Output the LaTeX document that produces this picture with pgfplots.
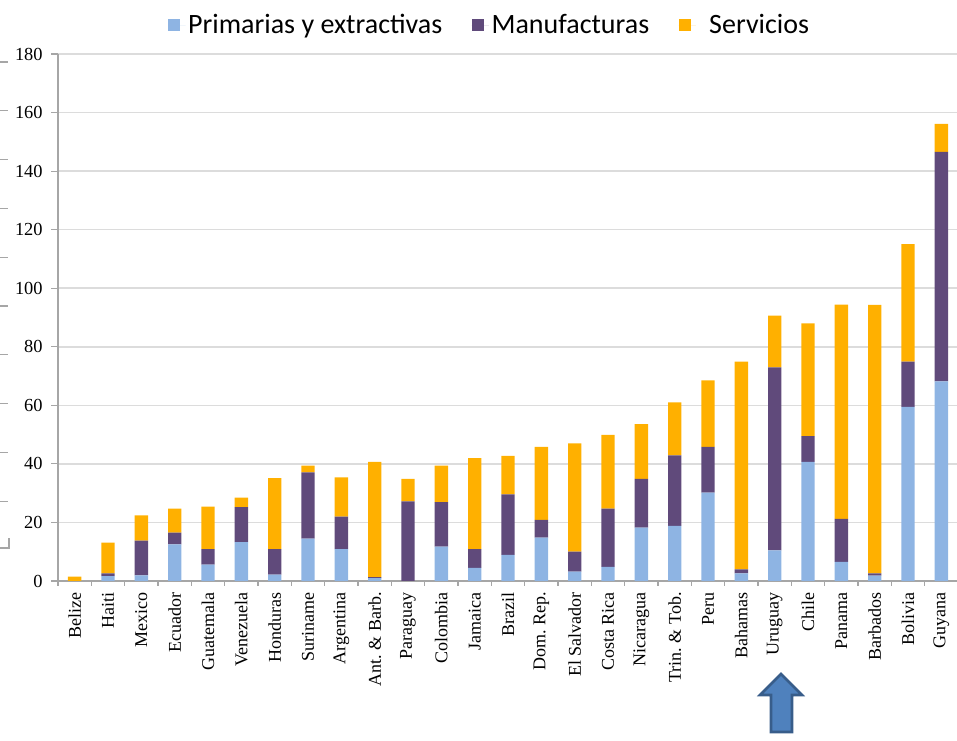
\documentclass[border=0pt]{standalone}
\usepackage{fontspec}
\setmainfont{Liberation Serif}
\newfontfamily\calibri{Carlito}
\usepackage{pgfplots}
\usepackage{pgfplotstable}
\pgfplotsset{compat=1.18}
\definecolor{cblue}{HTML}{8EB4E3}
\definecolor{cpurple}{HTML}{604A7B}
\definecolor{corange}{HTML}{FFB000}
\definecolor{axisgray}{HTML}{A6A6A6}
\definecolor{gridgray}{HTML}{DCDCDC}
\definecolor{arrowfill}{HTML}{4F81BD}
\definecolor{arrowdraw}{HTML}{385D8A}

\pgfplotstableread{
idx p m s
0 0 0 1.5
1 1.7 0.9 10.5
2 1.9 11.9 8.6
3 12.5 4.0 8.2
4 5.6 5.3 14.5
5 13.3 11.9 3.3
6 2.2 8.7 24.2
7 14.5 22.6 2.3
8 10.9 11.1 13.4
9 1.0 0.3 39.4
10 0 27.2 7.7
11 11.7 15.2 12.5
12 4.5 6.4 31.1
13 8.9 20.7 13.1
14 14.8 6.1 24.9
15 3.2 6.8 37.0
16 4.8 19.9 25.2
17 18.2 16.7 18.7
18 18.8 24.1 18.1
19 30.2 15.6 22.7
20 2.6 1.4 70.9
21 10.5 62.5 17.6
22 40.7 8.8 38.5
23 6.5 14.7 73.2
24 1.8 0.8 91.7
25 59.5 15.4 40.2
26 68.2 78.4 9.5
}\datatable

\begin{document}
\begin{tikzpicture}[x=0.75pt,y=0.75pt]
\path[use as bounding box] (0,0) rectangle (957,741);
\begin{axis}[
  at={(43.5pt,120pt)}, anchor=south west,
  scale only axis, width=675pt, height=395.25pt,
  ybar stacked, bar width=0.40,
  xmin=-0.5, xmax=26.5, ymin=0, ymax=180,
  ytick={0,20,...,180},
  xtick={0,...,26},
  xticklabels={Belize,Haiti,Mexico,Ecuador,Guatemala,Venezuela,Honduras,Suriname,Argentina,{Ant.\ \&\ Barb.},Paraguay,Colombia,Jamaica,Brazil,{Dom.\ Rep.},{El Salvador},{Costa Rica},Nicaragua,{Trin.\ \&\ Tob.},Peru,Bahamas,Uruguay,Chile,Panama,Barbados,Bolivia,Guyana},
  xticklabel style={rotate=90, anchor=east, font=\fontsize{13.5}{15}\selectfont},
  yticklabel style={font=\fontsize{13.8}{15}\selectfont, xshift=-3pt},
  /pgf/number format/assume math mode=true,
  axis x line*=bottom, axis y line*=left,
  axis line style={axisgray, line width=1.3pt},
  ymajorgrids, grid style={gridgray, line width=1.2pt},
  tick align=outside, major tick length=5pt,
  tick style={axisgray, line width=0.9pt},
  major x tick style={draw=none},
  minor xtick={-0.5,0.5,...,26.5}, minor tick length=3.5pt,
  minor x tick style={axisgray, line width=0.9pt},
  legend style={at={(0.48,1.055)}, anchor=center, draw=none, fill=none,
    legend columns=3, font=\calibri\fontsize{21}{24}\selectfont,
    /tikz/every even column/.append style={column sep=20pt}},
  legend image code/.code={\fill[#1] (0pt,-4.5pt) rectangle (9pt,4.5pt); \path (0pt,0pt) -- (13pt,0pt);},
]
\addplot[fill=cblue, draw=none] table[x=idx,y=p]{\datatable};
\addplot[fill=cpurple, draw=none] table[x=idx,y=m]{\datatable};
\addplot[fill=corange, draw=none] table[x=idx,y=s]{\datatable};
\legend{Primarias y extractivas, Manufacturas, \hspace{8pt}Servicios}
\end{axis}
% cropped-edge remnants on the left
\foreach \k in {0,...,9} \draw[axisgray, line width=1pt] (0,{741-62-48.8*\k}) -- (8,{741-62-48.8*\k});
\draw[axisgray, line width=1pt] (0,{741-548}) -- (9,{741-548}) -- (9,{741-538});
% arrow under Uruguay
\filldraw[fill=arrowfill, draw=arrowdraw, line width=2pt, line join=miter]
  (771,9) -- (771,46) -- (760,46) -- (781,67) -- (802,46) -- (792,46) -- (792,9) -- cycle;
\end{tikzpicture}
\end{document}
